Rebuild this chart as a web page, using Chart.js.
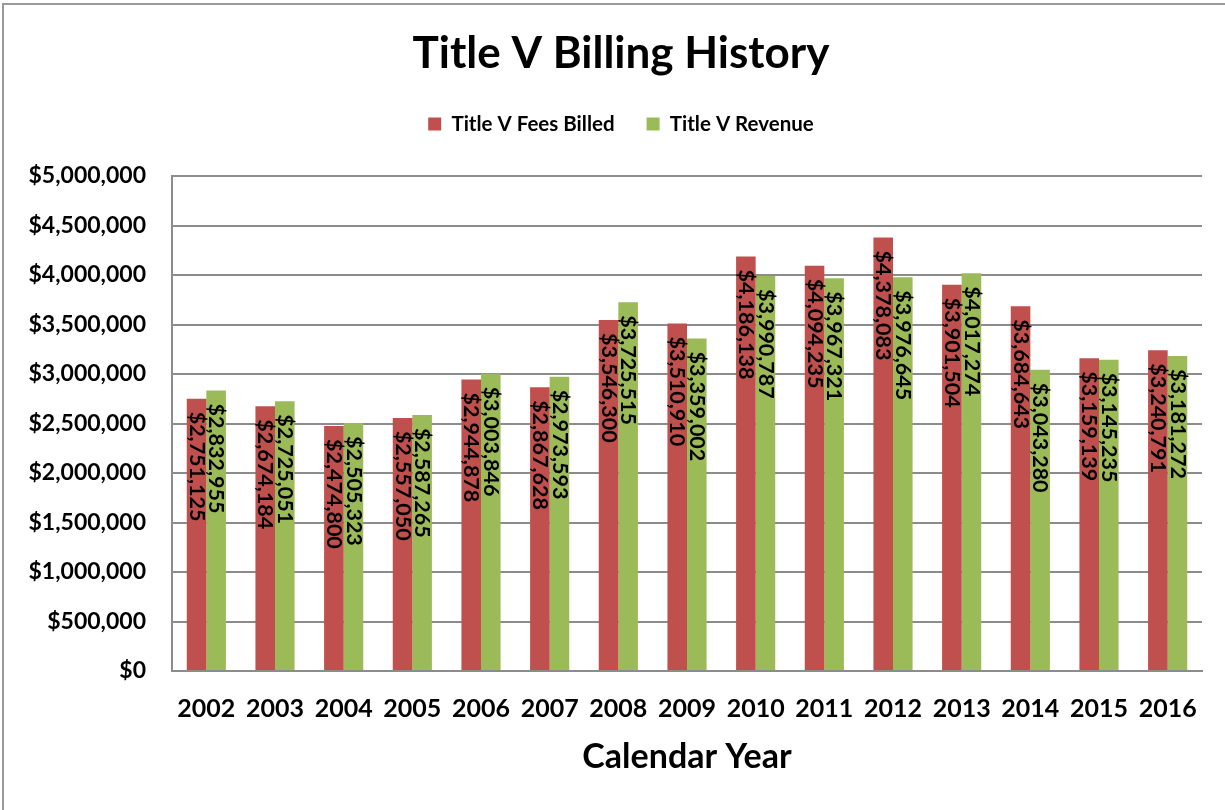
<!DOCTYPE html>
<html>
<head>
<meta charset="utf-8">
<script src="https://cdn.jsdelivr.net/npm/chart.js@4.4.0/dist/chart.umd.min.js"></script>
<style>
  html, body { margin: 0; padding: 0; background: #fff; overflow: hidden; }
  #wrap { position: relative; width: 1242px; height: 810px; }
</style>
</head>
<body>
<div id="wrap"><canvas id="chart"></canvas></div>
<script>
// values
const years = ['2002', '2003', '2004', '2005', '2006', '2007', '2008', '2009',
  '2010', '2011', '2012', '2013', '2014', '2015', '2016'];
const feesBilled = [2751125, 2674184, 2474800, 2557050, 2944878, 2867628, 3546300, 3510910,
  4186138, 4094235, 4378083, 3901504, 3684643, 3159139, 3240791];
const revenue = [2832955, 2725051, 2505323, 2587265, 3003846, 2973593, 3725515, 3359002,
  3990787, 3967321, 3976645, 4017274, 3043280, 3145235, 3181272];
const yTickValues = [0, 500000, 1000000, 1500000, 2000000, 2500000, 3000000,
  3500000, 4000000, 4500000, 5000000];

const FONT = 'Lato, "Open Sans", sans-serif';
const GRID = '#8c8c8c';

const money = v => '$' + v.toLocaleString('en-US');

// grey frame of the chart object (top and left edges)
const frame = {
  id: 'frame',
  beforeDraw(chart) {
    const ctx = chart.ctx;
    ctx.save();
    ctx.strokeStyle = '#9a9a9a';
    ctx.lineWidth = 2;
    ctx.beginPath();
    ctx.moveTo(3, chart.height);
    ctx.lineTo(3, 4);
    ctx.lineTo(chart.width, 4);
    ctx.stroke();
    ctx.restore();
  }
};

// extra gap below the legend
const legendGap = {
  id: 'legendGap',
  beforeInit(chart) {
    const fit = chart.legend.fit;
    chart.legend.fit = function () {
      fit.bind(chart.legend)();
      this.height += 31.75;
    };
  }
};

// vertical value labels just inside the top of each bar
const barLabels = {
  id: 'barLabels',
  afterDatasetsDraw(chart) {
    const ctx = chart.ctx;
    ctx.save();
    ctx.font = 'bold 21.5px ' + FONT;
    ctx.fillStyle = '#000';
    ctx.textAlign = 'left';
    ctx.textBaseline = 'middle';
    chart.data.datasets.forEach((ds, i) => {
      chart.getDatasetMeta(i).data.forEach((bar, j) => {
        ctx.save();
        ctx.translate(bar.x, bar.y + 13);
        ctx.rotate(Math.PI / 2);
        ctx.fillText(money(ds.data[j]), 0, 0);
        ctx.restore();
      });
    });
    ctx.restore();
  }
};

new Chart(document.getElementById('chart'), {
  type: 'bar',
  data: {
    labels: years,
    datasets: [
      {
        label: 'Title V Fees Billed',
        data: feesBilled,
        backgroundColor: '#C0504D',
        categoryPercentage: 0.57,
        barPercentage: 1.0
      },
      {
        label: 'Title V Revenue',
        data: revenue,
        backgroundColor: '#9BBB59',
        categoryPercentage: 0.57,
        barPercentage: 1.0
      }
    ]
  },
  options: {
    responsive: true,
    maintainAspectRatio: false,
    animation: false,
    layout: { padding: 0 },
    plugins: {
      title: {
        display: true,
        text: 'Title V Billing History',
        color: '#000',
        font: { family: FONT, size: 44, weight: 'bold' },
        padding: { top: 27, bottom: 2 }
      },
      legend: {
        labels: {
          boxWidth: 13,
          boxHeight: 13,
          padding: 32,
          color: '#000',
          font: { family: FONT, size: 20.5, weight: 'bold' }
        }
      },
      tooltip: { enabled: false }
    },
    scales: {
      x: {
        grid: { display: false, drawTicks: false },
        border: { color: GRID, width: 2 },
        ticks: {
          color: '#000',
          font: { family: FONT, size: 25, weight: 'bold' },
          padding: 23,
          maxRotation: 0,
          autoSkip: false
        },
        title: {
          display: true,
          text: 'Calendar Year',
          color: '#000',
          font: { family: FONT, size: 34, weight: 'bold' },
          padding: { top: 12, bottom: 33 }
        },
        afterFit: s => { s.height = 139; }
      },
      y: {
        min: 0,
        max: 5000000,
        grid: { color: GRID, lineWidth: 2, drawTicks: false },
        border: { color: GRID, width: 2 },
        ticks: {
          color: '#000',
          font: { family: FONT, size: 23, weight: 'bold' },
          padding: 26,
          callback: v => money(v)
        },
        afterBuildTicks: s => { s.ticks = yTickValues.map(v => ({ value: v })); },
        afterFit: s => { s.width = 172; }
      },
      // empty right-hand strip so the plot ends where the reference does
      yRight: {
        position: 'right',
        display: true,
        grid: { display: false, drawTicks: false },
        border: { display: false },
        ticks: { display: false },
        afterFit: s => { s.width = 40; }
      }
    }
  },
  plugins: [frame, legendGap, barLabels]
});
</script>
</body>
</html>
